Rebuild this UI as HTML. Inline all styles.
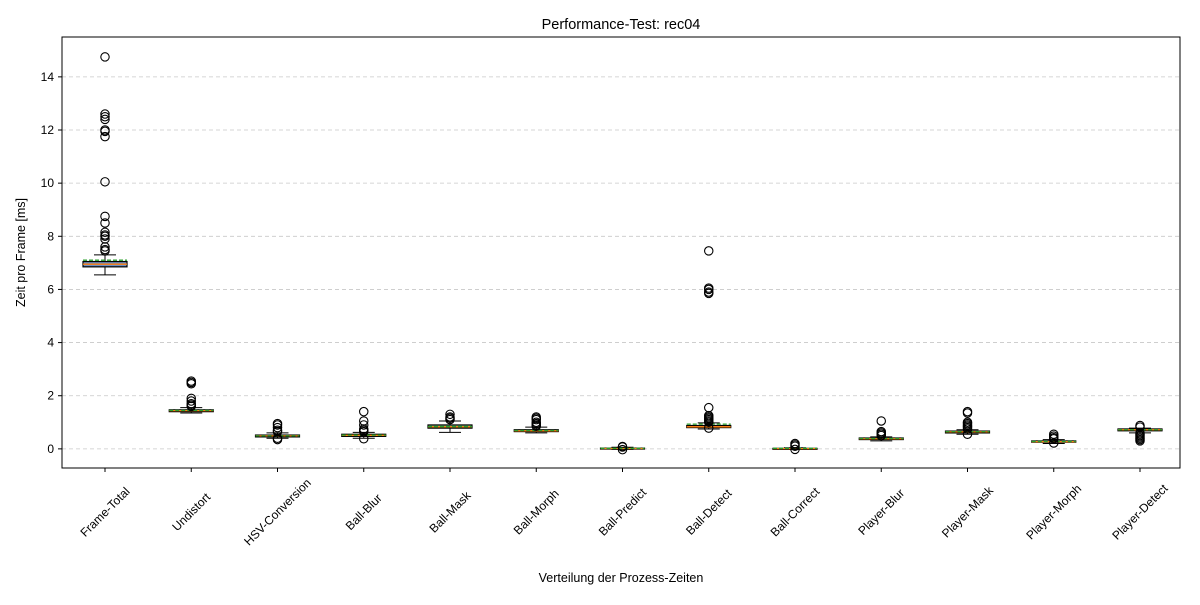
<!DOCTYPE html>
<html><head><meta charset="utf-8"><style>body{margin:0;background:#fff}svg text{font-family:"Liberation Sans","DejaVu Sans",sans-serif}</style></head>
<body>
<svg id="c" width="1200" height="600" xmlns="http://www.w3.org/2000/svg"></svg>
<script>
const categories=["Frame-Total","Undistort","HSV-Conversion","Ball-Blur","Ball-Mask","Ball-Morph","Ball-Predict","Ball-Detect","Ball-Correct","Player-Blur","Player-Mask","Player-Morph","Player-Detect"];
const q1=[6.85,1.40,0.45,0.47,0.78,0.65,0.00,0.80,0.00,0.35,0.60,0.25,0.68];
const q3=[7.05,1.47,0.52,0.55,0.90,0.72,0.03,0.88,0.02,0.41,0.67,0.30,0.75];
const medians=[6.95,1.44,0.49,0.51,0.83,0.68,0.015,0.83,0.01,0.38,0.64,0.27,0.72];
const means=[7.10,1.45,0.49,0.52,0.84,0.69,0.02,0.93,0.02,0.39,0.65,0.28,0.72];
const whiskLo=[6.55,1.35,0.40,0.40,0.62,0.60,-0.02,0.75,-0.01,0.30,0.55,0.20,0.60];
const whiskHi=[7.30,1.55,0.60,0.62,1.05,0.82,0.06,0.98,0.04,0.45,0.72,0.35,0.78];
const outliers=[
[7.45,7.5,7.6,7.9,8.0,8.05,8.15,8.5,8.75,10.05,11.75,11.95,12.0,12.4,12.5,12.6,14.75],
[1.6,1.65,1.7,1.8,1.9,2.45,2.5,2.55],
[0.35,0.4,0.65,0.7,0.8,0.9,0.95],
[0.38,0.65,0.7,0.75,0.9,1.05,1.4],
[1.1,1.15,1.2,1.3],
[0.85,0.9,0.95,1.0,1.1,1.15,1.2],
[-0.03,0.07,0.09],
[0.78,1.0,1.05,1.1,1.15,1.2,1.25,1.55,5.85,5.9,6.0,6.05,7.45],
[-0.02,0.1,0.15,0.2],
[0.5,0.55,0.6,0.65,1.05],
[0.55,0.75,0.8,0.85,0.9,0.95,1.0,1.35,1.4],
[0.22,0.38,0.42,0.48,0.55],
[0.3,0.35,0.4,0.45,0.5,0.55,0.6,0.82,0.88]];
const yTicks=[0,2,4,6,8,10,12,14];
const fills=["#4c72b0","#55a868","#c8a050","#dd8452","#55a868","#dd8452","#55a868","#dd5533","#55a868","#55a868","#dd8452","#8c8c8c","#55a868"];
const svg=document.getElementById('c');const NS="http://www.w3.org/2000/svg";
const L=62,R=1180,T=37,B=468,yMin=-0.72,yMax=15.5;
const y=v=>B-(v-yMin)/(yMax-yMin)*(B-T);
const step=(1140-105)/(categories.length-1);
const x=i=>105+i*step;
function mk(t,a,p){const e=document.createElementNS(NS,t);for(const k in a)e.setAttribute(k,a[k]);(p||svg).appendChild(e);return e;}
let g=mk('g',{});


yTicks.forEach(t=>{mk('line',{x1:L,x2:R,y1:y(t),y2:y(t),stroke:'#c8c8c8','stroke-dasharray':'4,3','stroke-width':0.8},g);});
yTicks.forEach(t=>{const l=mk('line',{x1:L-4,x2:L,y1:y(t),y2:y(t),stroke:'#000'});
const tx=mk('text',{x:L-8,y:y(t)+4,'text-anchor':'end','font-size':12});tx.textContent=t;

});
categories.forEach((c,i)=>{const bg=mk('g',{});


const cx=x(i),w=44;
mk('line',{x1:cx,x2:cx,y1:y(whiskLo[i]),y2:y(q1[i]),stroke:'#000'},bg);
mk('line',{x1:cx,x2:cx,y1:y(q3[i]),y2:y(whiskHi[i]),stroke:'#000'},bg);
mk('line',{x1:cx-11,x2:cx+11,y1:y(whiskLo[i]),y2:y(whiskLo[i]),stroke:'#000'},bg);
mk('line',{x1:cx-11,x2:cx+11,y1:y(whiskHi[i]),y2:y(whiskHi[i]),stroke:'#000'},bg);
mk('rect',{x:cx-w/2,y:y(q3[i]),width:w,height:Math.max(1,y(q1[i])-y(q3[i])),fill:fills[i],'fill-opacity':0.8,stroke:'#000','stroke-width':1.2},bg);
mk('line',{x1:cx-w/2,x2:cx+w/2,y1:y(medians[i]),y2:y(medians[i]),stroke:'#ff7f0e','stroke-width':1.3},bg);
mk('line',{x1:cx-w/2,x2:cx+w/2,y1:y(means[i]),y2:y(means[i]),stroke:'#2ca02c','stroke-width':1.3,'stroke-dasharray':'4,2'},bg);
outliers[i].forEach(v=>mk('circle',{cx:cx,cy:y(v),r:4.2,fill:'none',stroke:'#000','stroke-width':1.1},bg));
mk('line',{x1:cx,x2:cx,y1:B,y2:B+4,stroke:'#000'});
const tx=mk('text',{'font-size':12,'text-anchor':'middle','dominant-baseline':'central',transform:`translate(${cx},${B+44}) rotate(-45)`});tx.textContent=c;

});
const fr=mk('rect',{x:L,y:T,width:R-L,height:B-T,fill:'none',stroke:'#000','stroke-width':1});


const tt=mk('text',{x:(L+R)/2,y:29,'text-anchor':'middle','font-size':14.5});tt.textContent='Performance-Test: rec04';


const xt=mk('text',{x:(L+R)/2,y:582,'text-anchor':'middle','font-size':12.5});xt.textContent='Verteilung der Prozess-Zeiten';


const yt=mk('text',{'text-anchor':'middle','font-size':12.5,transform:`translate(25,${(T+B)/2}) rotate(-90)`});yt.textContent='Zeit pro Frame [ms]';


</script>
</body></html>
